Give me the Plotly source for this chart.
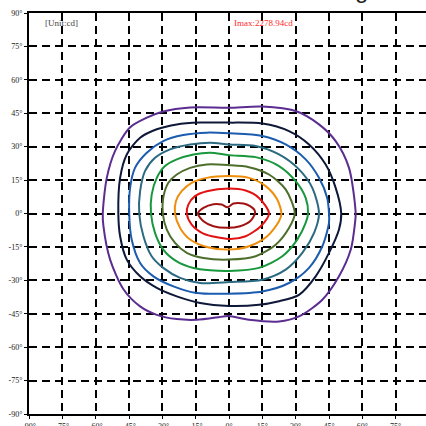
import plotly.graph_objects as go

# Angle ticks (degrees)
tick_vals = [-90, -75, -60, -45, -30, -15, 0, 15, 30, 45, 60, 75, 90]
tick_text = [f"{v}°" for v in tick_vals]

# Isocandela contours (x = horizontal angle, y = vertical angle), outer to inner
purple_x = [57, 54, 48, 40.5, 30, 15, 0, -17.5, -29.6, -37, -44.6, -51.3, -55, -56.8, -56.5, -53.5, -47.5, -40, -32.5, -23.5, -14.5, -2.5, 0, 9, 22.5, 31.5, 42, 49.5, 54.8, 56.7, 57]
purple_y = [0, 20.5, 32.5, 40, 46, 48, 47.5, 47.6, 45.8, 43, 38.6, 28, 16, 0, -5.7, -20.7, -34, -41.7, -45.5, -47.4, -47.7, -46.2, -46, -47.7, -48.5, -46.2, -38.7, -28.2, -16.2, -4.2, 0]

black_x = [50.5, 48, 43.5, 36, 27, 15, 0, -13, -23.5, -32.5, -40, -46, -49, -49.8, -49, -46, -40, -32.5, -23.5, -13, 0, 13.5, 22, 31.5, 39, 45, 49.5, 50.5]
black_y = [0, 11.5, 22, 31, 37, 40.4, 40.8, 40.8, 40, 37.8, 34, 26.5, 16, 0, -10.2, -20.7, -28.2, -33.4, -37.2, -40.2, -41.5, -41, -39.5, -36.5, -28.2, -17.7, -7.2, 0]

blue_x = [45, 44.2, 40.5, 34.5, 25.5, 15, 0, -10, -20.6, -29.6, -37, -42.3, -44.5, -44.9, -43.8, -40, -34, -25, -14.5, 0, 15, 27, 36, 42, 45, 45]
blue_y = [0, 7, 16, 24.3, 31, 34.8, 36, 36.3, 35.2, 32.5, 27.3, 20.5, 11.5, 0, -11.7, -22.2, -28.2, -32.7, -35.7, -36, -35, -31.2, -24.4, -14.7, -4.2, 0]

teal_x = [40.5, 37.5, 31.5, 22.5, 12, 0, -8.5, -17.5, -26.5, -33.3, -37.8, -40, -40.4, -38.5, -34.8, -29.6, -22, -13, 0, 15, 25.5, 33, 38.3, 40.5]
teal_y = [0, 11.5, 19.8, 26.5, 30.3, 31, 31.8, 31, 28.8, 25, 19, 10, 0, -10.2, -19.2, -24.4, -28.9, -31.2, -30.8, -29.7, -25.2, -17.7, -8.7, 0]

green_x = [35.6, 34.5, 30, 22.5, 12, 0, -8.5, -16, -23.5, -28.8, -32.5, -34.8, -35.1, -33.3, -29.6, -23.5, -16, -8.5, 0, 13.5, 24, 30.7, 34.5, 35.6]
green_y = [0, 7, 14.5, 21.3, 25.3, 26.2, 27.3, 26.5, 24.3, 21.3, 16, 8.5, 0, -8.7, -16.2, -21.5, -24.5, -25.5, -25.8, -24.4, -19.2, -11.7, -4.2, 0]

olive_x = [29.6, 25.5, 18, 9, 0, -10, -17.5, -23.5, -27.3, -29.6, -29.8, -28, -24.3, -19, -11.5, 0, 12, 21, 27, 29.6]
olive_y = [0, 10.8, 17.5, 20.8, 21.7, 22, 20.5, 17.5, 13.8, 7, 0, -7.2, -13.2, -17.7, -20, -20.7, -19.2, -14, -6.5, 0]

orange_x = [23.6, 21.7, 16.5, 9, 0, -10, -16.8, -21.3, -23.9, -24.3, -22, -17.5, -10, 0, 9, 17.2, 22.5, 23.6]
orange_y = [0, 6.3, 12.3, 16, 16.8, 16, 13.8, 10, 5.5, 0, -6.5, -11.7, -15, -16.2, -14.7, -10.2, -3.5, 0]

red_x = [18, 13.5, 7.5, 0, -10, -15.3, -18.3, -19, -16.8, -11.5, 0, 7.5, 14.3, 18]
red_y = [0, 7, 10.3, 11.2, 10, 7.8, 4, 0, -5, -9, -11.4, -10.2, -5.7, 0]

darkred_x = [11.7, 11.5, 9.5, 6.5, 2, -0.7, -3.3, -7, -11.5, -14, -11.5, -7, -1, 5, 9.5, 11.7]
darkred_y = [0, 1.5, 3.3, 4.5, 4.5, 2.8, 4, 4.2, 2.5, 0, -3.5, -5.7, -6.4, -5.7, -3.5, 0]

contours = [
    (purple_x, purple_y, "#5b2d90"),
    (black_x, black_y, "#0e1838"),
    (blue_x, blue_y, "#1c5cae"),
    (teal_x, teal_y, "#2b6a80"),
    (green_x, green_y, "#18973c"),
    (olive_x, olive_y, "#4d6e2c"),
    (orange_x, orange_y, "#ef8e0c"),
    (red_x, red_y, "#e31212"),
    (darkred_x, darkred_y, "#a01212"),
]

fig = go.Figure()
for xs, ys, col in contours:
    fig.add_trace(go.Scatter(
        x=xs, y=ys, mode="lines",
        line=dict(color=col, width=2, shape="spline", smoothing=0.8),
        hoverinfo="skip", showlegend=False,
    ))

axis_common = dict(
    tickvals=tick_vals, ticktext=tick_text, automargin=False,
    showgrid=True, gridcolor="black", gridwidth=2, griddash="8px,5px",
    zeroline=False, showline=True, linecolor="black", linewidth=2,
    ticks="outside", ticklen=3, tickcolor="black", tickwidth=1,
    tickfont=dict(family="Liberation Serif", size=8, color="#222222"),
)

fig.update_layout(
    width=426, height=426,
    margin=dict(l=29, r=0, t=13, b=12, autoexpand=False),
    plot_bgcolor="white", paper_bgcolor="white",
    xaxis=dict(range=[-90, 88.65], mirror=True, **axis_common),
    yaxis=dict(range=[-90, 90], mirror=False, ticklabelstandoff=0, **axis_common),
    annotations=[
        dict(text="[Unit:cd]", x=-83.5, y=88.5, xref="x", yref="y",
             xanchor="left", yanchor="top", showarrow=False,
             font=dict(family="Liberation Serif", size=9, color="#444444")),
        dict(text="Imax:2278.94cd", x=1.5, y=88.5, xref="x", yref="y",
             xanchor="left", yanchor="top", showarrow=False,
             font=dict(family="Liberation Serif", size=9, color="#ff2a2a")),
        dict(text="g", x=59.5, y=1.021, xref="x", yref="paper",
             xanchor="center", yanchor="bottom", showarrow=False,
             font=dict(family="Liberation Sans", size=24, color="#222222")),
    ],
)

fig.write_html("out.html", config={"displayModeBar": False},
               post_script="document.body.style.margin='0';")
